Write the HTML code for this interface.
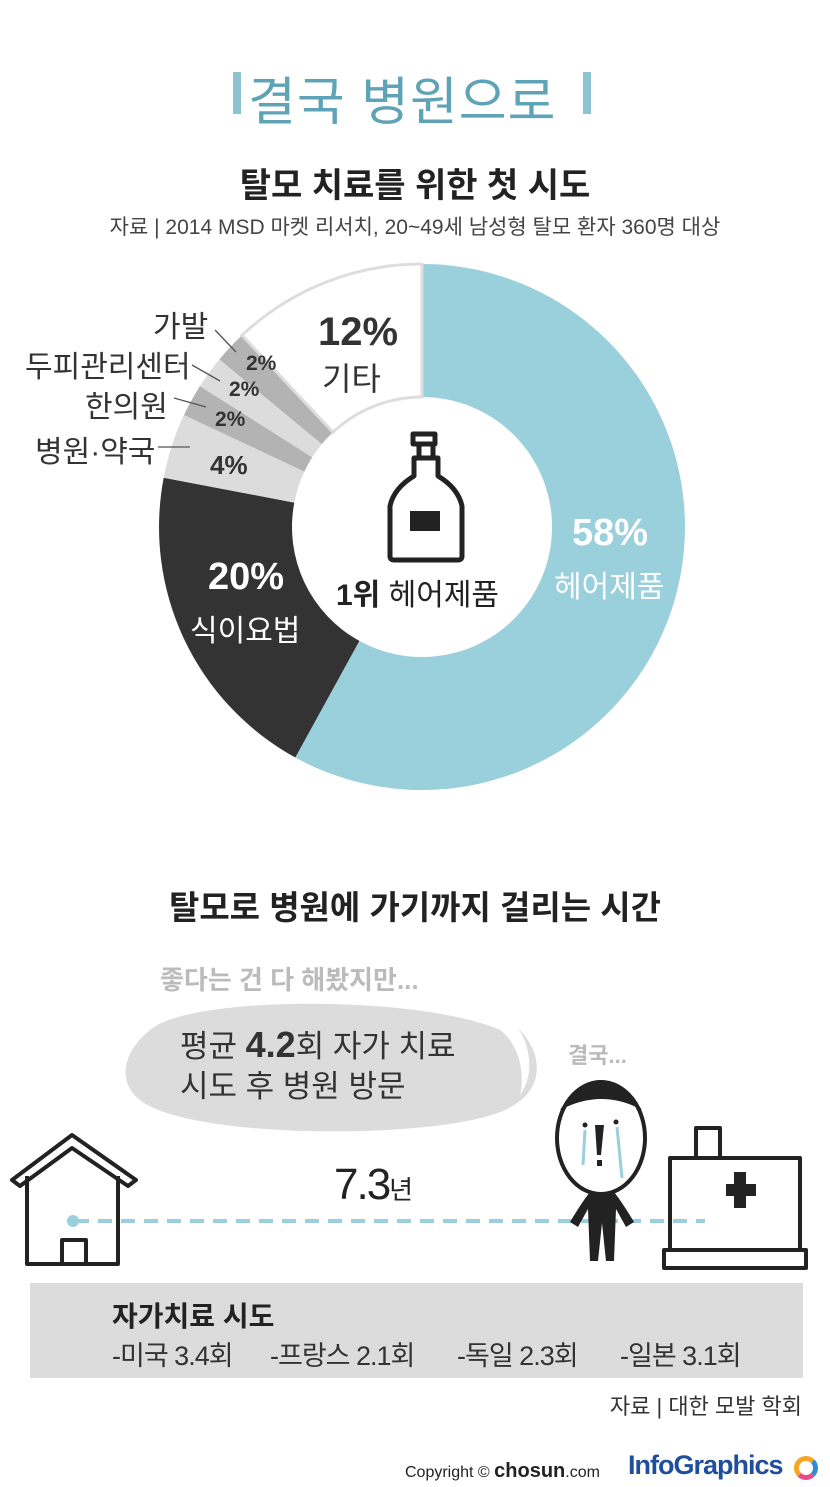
<!DOCTYPE html>
<html><head><meta charset="utf-8"><style>
body{margin:0;background:#fff;}
.w{position:relative;width:830px;height:1487px;overflow:hidden;font-family:"Liberation Sans","Noto Sans CJK KR",sans-serif;color:#222;}
.t{position:absolute;white-space:nowrap;}
.c{position:absolute;top:1334px;font-size:27px;color:#333;letter-spacing:-1px;white-space:nowrap;}
</style></head><body><div class="w">
<div class="t" style="left:233px;top:72px;width:8px;height:42px;background:#8ec4d2"></div>
<div class="t" style="left:583px;top:72px;width:8px;height:42px;background:#8ec4d2"></div>
<div class="t" style="left:248px;top:60px;font-size:52px;color:#5fa3b7;letter-spacing:1px">결국 병원으로</div>
<div class="t" style="left:0;width:830px;text-align:center;top:158px;font-size:34px;font-weight:bold;color:#222">탈모 치료를 위한 첫 시도</div>
<div class="t" style="left:0;width:830px;text-align:center;top:211px;font-size:21px;color:#444">자료 | 2014 MSD 마켓 리서치, 20~49세 남성형 탈모 환자 360명 대상</div>
<svg class="t" style="left:0;top:0" width="830" height="1487">
<path d="M422,264 A263,263 0 1 1 295.3,757.5 L359.4,640.9 A130,130 0 1 0 422,397Z" fill="#9acfdc"/>
<path d="M295.3,757.5 A263,263 0 0 1 163.7,477.7 L294.3,502.6 A130,130 0 0 0 359.4,640.9Z" fill="#333"/>
<path d="M163.7,477.7 A263,263 0 0 1 184,415 L304.4,471.6 A130,130 0 0 0 294.3,502.6Z" fill="#dcdcdc"/>
<path d="M184,415 A263,263 0 0 1 199.9,386.1 L312.2,457.3 A130,130 0 0 0 304.4,471.6Z" fill="#b3b3b3"/>
<path d="M199.9,386.1 A263,263 0 0 1 219.4,359.4 L321.8,444.1 A130,130 0 0 0 312.2,457.3Z" fill="#dcdcdc"/>
<path d="M219.4,359.4 A263,263 0 0 1 242,335.3 L333,432.2 A130,130 0 0 0 321.8,444.1Z" fill="#b3b3b3"/>
<path d="M242,335.3 A263,263 0 0 1 422,264 L422,397 A130,130 0 0 0 333,432.2Z" fill="#fff" stroke="#ddd" stroke-width="3"/>
<g stroke="#555" stroke-width="1.3"><line x1="215" y1="330" x2="236" y2="352"/><line x1="192" y1="365" x2="220" y2="381"/><line x1="174" y1="398" x2="206" y2="407"/><line x1="158" y1="447" x2="190" y2="447"/></g>
<g fill="none" stroke="#222" stroke-width="5" stroke-linejoin="round">
<path d="M413,434 h22 v10 h-22z"/><path d="M419,444 v14 h14 v-14"/>
<path d="M414,458 h24 v18 q20,12 24,30 v50 q0,4 -4,4 h-64 q-4,0 -4,-4 v-50 q4,-18 24,-30z"/>
</g>
<rect x="410" y="511" width="30" height="20" fill="#222"/>
<path d="M150,1030 C190,995 420,995 500,1030 C520,1045 525,1075 520,1095 C535,1075 530,1045 518,1028 C545,1055 545,1092 505,1110 C440,1140 190,1140 140,1100 C115,1080 125,1050 150,1030Z" fill="#dcdcdc"/>
<line x1="75" y1="1221" x2="705" y2="1221" stroke="#9acfdc" stroke-width="4" stroke-dasharray="14,9"/>
<circle cx="73" cy="1221" r="6" fill="#9acfdc"/>
<g fill="none" stroke="#222" stroke-width="4" stroke-linejoin="round">
<path d="M12,1180 L72,1135 L136,1180 L128,1186 L72,1148 L20,1186Z"/>
<path d="M27,1176 V1264 H118 V1176"/><path d="M62,1264 V1240 H86 V1264"/>
<path d="M670,1158 H800 V1250 H670Z"/><path d="M664,1250 H806 V1268 H664Z"/><path d="M696,1158 V1128 H720 V1158"/>
<ellipse cx="601" cy="1138" rx="44" ry="56" fill="#fff"/>
</g>
<path d="M560,1110 q40,-60 82,0 q-40,-22 -82,0z" fill="#222"/>
<path d="M595,1125 h9 l-3,30 h-4z M597,1160 h5 v6 h-5z" fill="#222"/>
<circle cx="585" cy="1125" r="2.5" fill="#222"/><circle cx="616" cy="1122" r="2.5" fill="#222"/>
<g stroke="#9acfdc" stroke-width="3"><line x1="585" y1="1130" x2="583" y2="1165"/><line x1="617" y1="1127" x2="622" y2="1178"/></g>
<path d="M590,1192 h24 q8,10 20,30 l-8,5 l-10,-18 l-2,52 h-8 l-4,-38 l-4,38 h-8 l-2,-52 l-10,18 l-8,-5 q12,-20 20,-30z" fill="#222"/>
<path d="M726,1184 h8 v-12 h12 v12 h10 v12 h-10 v12 h-12 v-12 h-8z" fill="#222"/>
</svg>
<div class="t" style="left:318px;top:310px;font-size:40px;font-weight:bold;color:#333">12%</div>
<div class="t" style="left:322px;top:354px;font-size:32px;color:#333">기타</div>
<div class="t" style="left:153px;top:302px;font-size:30px;color:#333">가발</div>
<div class="t" style="left:25px;top:342px;font-size:30px;color:#333">두피관리센터</div>
<div class="t" style="left:85px;top:382px;font-size:30px;color:#333">한의원</div>
<div class="t" style="left:35px;top:427px;font-size:30px;color:#333">병원·약국</div>
<div class="t" style="left:246px;top:352px;font-size:21px;font-weight:bold;color:#333">2%</div>
<div class="t" style="left:229px;top:378px;font-size:21px;font-weight:bold;color:#333">2%</div>
<div class="t" style="left:215px;top:408px;font-size:21px;font-weight:bold;color:#333">2%</div>
<div class="t" style="left:210px;top:450px;font-size:26px;font-weight:bold;color:#333">4%</div>
<div class="t" style="left:208px;top:556px;font-size:38px;font-weight:bold;color:#fff">20%</div>
<div class="t" style="left:190px;top:606px;font-size:30px;color:#fff">식이요법</div>
<div class="t" style="left:572px;top:512px;font-size:38px;font-weight:bold;color:#fff">58%</div>
<div class="t" style="left:554px;top:562px;font-size:30px;color:#fff">헤어제품</div>
<div class="t" style="left:336px;top:570px;font-size:30px;color:#222"><b>1위</b> 헤어제품</div>
<div class="t" style="left:0;width:830px;text-align:center;top:881px;font-size:33px;font-weight:bold;color:#222">탈모로 병원에 가기까지 걸리는 시간</div>
<div class="t" style="left:160px;top:960px;font-size:26px;font-weight:bold;color:#bbb">좋다는 건 다 해봤지만...</div>
<div class="t" style="left:180px;top:1025px;font-size:31px;color:#333;line-height:40px">평균 <b style="font-size:36px">4.2</b>회 자가 치료<br>시도 후 병원 방문</div>
<div class="t" style="left:568px;top:1038px;font-size:22px;font-weight:bold;color:#bbb">결국...</div>
<div class="t" style="left:334px;top:1160px;font-size:44px;color:#222;letter-spacing:-2px">7.3<span style="font-size:26px">년</span></div>
<div class="t" style="left:30px;top:1283px;width:773px;height:95px;background:#dcdcdc"></div>
<div class="t" style="left:112px;top:1295px;font-size:28px;font-weight:bold;color:#222">자가치료 시도</div>
<div class="c" style="left:112px">-미국 3.4회</div>
<div class="c" style="left:270px">-프랑스 2.1회</div>
<div class="c" style="left:457px">-독일 2.3회</div>
<div class="c" style="left:620px">-일본 3.1회</div>
<div class="t" style="right:28px;top:1389px;font-size:22px;color:#333">자료 | 대한 모발 학회</div>
<div class="t" style="left:405px;top:1460px;font-size:16px;color:#222">Copyright © <b style="font-size:20px">chosun</b>.com</div>
<div class="t" style="left:628px;top:1450px;font-size:27px;font-weight:bold;color:#1f4e9c;letter-spacing:-1px">InfoGraphics</div>
<div class="t" style="left:794px;top:1456px;width:14px;height:14px;border-radius:50%;border:5px solid #f5a623;border-right-color:#2e8bd6;border-bottom-color:#e94b8a"></div>
</div></body></html>
